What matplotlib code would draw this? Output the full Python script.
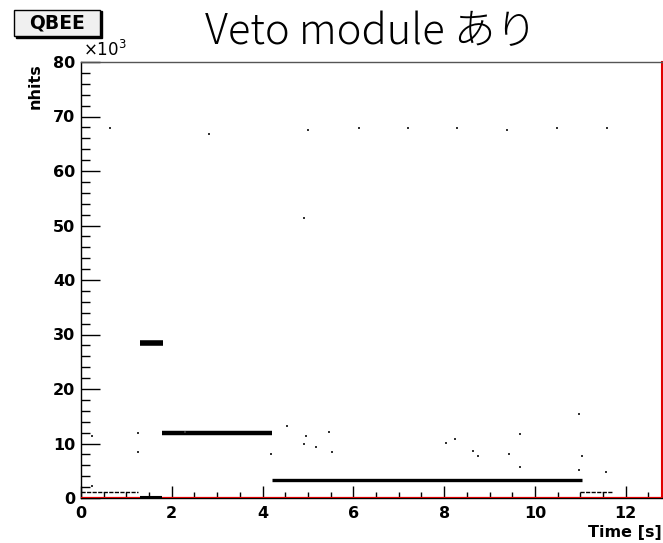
import matplotlib
matplotlib.use('Agg')
import matplotlib.pyplot as plt
from matplotlib.patches import Rectangle
from matplotlib.ticker import MultipleLocator, FuncFormatter

# dense bands of events: start time, end time, nhits (x1000)
band_t0 = [1.30, 1.78, 4.20]
band_t1 = [1.80, 4.20, 11.03]
band_k = [28.4, 11.9, 3.3]

# sparse low bands
low_t0 = [0.00, 10.99]
low_t1 = [1.26, 11.69]
low_k = [1.15, 1.15]

# events sitting on zero
zero_t0 = [1.30]
zero_t1 = [1.78]
zero_k = [0.1]

# isolated events: time [s], nhits (x1000)
dot_t = [0.64, 2.83, 5.01, 6.12, 7.20, 8.28, 9.39, 10.48, 11.58,
         4.92,
         0.24, 0.24, 1.26, 1.26, 2.29, 4.18,
         4.54, 4.96, 4.92, 5.17, 5.47, 5.52,
         8.04, 8.24, 8.63, 8.75, 9.43, 9.68, 9.68,
         10.98, 11.04, 10.98, 11.56]
dot_k = [67.9, 66.8, 67.6, 67.9, 67.8, 67.8, 67.6, 67.8, 67.9,
         51.4,
         11.4, 2.2, 11.9, 8.5, 12.2, 8.0,
         13.3, 11.3, 10.0, 9.4, 12.1, 8.4,
         10.1, 10.8, 8.7, 7.7, 8.1, 11.7, 5.6,
         15.4, 7.7, 5.1, 4.8]

bold = 'DejaVu Sans'

fig = plt.figure(figsize=(6.63, 5.43), dpi=100)
ax = fig.add_axes([81 / 663, 1 - 498 / 543, 581 / 663, 436 / 543])

band_lw = [4.0, 3.2, 2.4]
for t0, t1, k, lw in zip(band_t0, band_t1, band_k, band_lw):
    ax.hlines(k, t0, t1, color='black', lw=lw, zorder=3)
ax.hlines(low_k, low_t0, low_t1, color='black', lw=1.0,
          linestyles=(0, (3, 1)), zorder=3)
ax.hlines(zero_k, zero_t0, zero_t1, color='black', lw=1.5, zorder=4)
ax.scatter(dot_t, dot_k, s=2, marker='s', color='#333333', lw=0, zorder=3)

# red histogram outline
ax.axhline(0, color='#e00000', lw=1.6, zorder=3.5)

ax.set_xlim(0, 12.8)
ax.set_ylim(0, 80)

ax.spines['left'].set_color('black')
ax.spines['bottom'].set_color('black')
ax.spines['top'].set_color('#555555')
ax.spines['right'].set_color('#e00000')
ax.spines['right'].set_linewidth(1.5)
for s in ['left', 'bottom', 'top']:
    ax.spines[s].set_linewidth(1.0)

ax.xaxis.set_major_locator(MultipleLocator(2))
ax.xaxis.set_minor_locator(MultipleLocator(0.5))
ax.yaxis.set_major_locator(MultipleLocator(10))
ax.yaxis.set_minor_locator(MultipleLocator(2))
ax.tick_params(axis='x', which='major', direction='in', length=8.6, width=1,
               pad=6, top=False)
ax.tick_params(axis='x', which='minor', direction='in', length=4.3, width=1,
               top=False)
ax.tick_params(axis='y', which='major', direction='in', length=13.7, width=1,
               pad=4, right=False)
ax.tick_params(axis='y', which='minor', direction='in', length=6.8, width=1,
               right=False)
ax.xaxis.set_major_formatter(FuncFormatter(lambda v, p: f'{v:g}'))
ax.yaxis.set_major_formatter(FuncFormatter(lambda v, p: f'{v:g}'))
for lab in ax.get_xticklabels() + ax.get_yticklabels():
    lab.set_fontfamily(bold)
    lab.set_fontweight('bold')
    lab.set_fontsize(11.5)

fig.text(0.5 * (81 + 662) / 663, 1 - 44 / 543, 'Veto module あり',
         family=['Noto Sans CJK JP', 'DejaVu Sans'], fontweight='light',
         fontsize=30, ha='center', va='baseline')

ax.text(0.004, 1.004, r'$\times$10$^{3}$', transform=ax.transAxes,
        family=bold, fontsize=12, ha='left', va='bottom')
fig.text(35.5 / 663, 1 - 63 / 543, 'nhits', rotation=90, family=bold,
         fontweight='bold', fontsize=11.5, ha='center', va='top')
fig.text(662 / 663, 1 - 540 / 543, 'Time [s]', family=bold,
         fontweight='bold', fontsize=11.5, ha='right', va='bottom')

# QBEE label box with shadow
fig.patches.append(Rectangle((16 / 663, 1 - 38 / 543), 86 / 663, 27 / 543,
                             transform=fig.transFigure, color='black',
                             zorder=1))
fig.patches.append(Rectangle((14 / 663, 1 - 36 / 543), 86 / 663, 26 / 543,
                             transform=fig.transFigure, facecolor='#f0f0f0',
                             edgecolor='black', lw=1, zorder=2))
fig.text(57 / 663, 1 - 23 / 543, 'QBEE', family=bold, fontweight='bold',
         fontsize=13.5, ha='center', va='center', zorder=3)

fig.savefig('out.png', dpi=100)
